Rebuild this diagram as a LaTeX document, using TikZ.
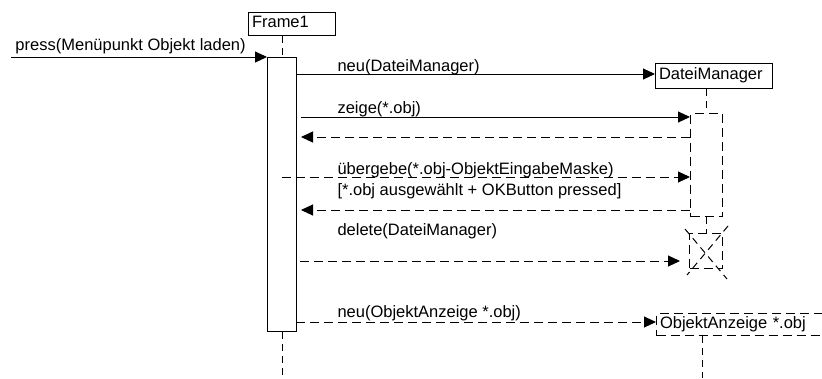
\documentclass[tikz,border=0pt]{standalone}
\usepackage{fontspec}
\setmainfont{Liberation Sans}
\usetikzlibrary{arrows.meta}
\begin{document}
\begin{tikzpicture}[x=1pt,y=-1pt,
  font=\fontsize{16.5}{20}\selectfont,
  line width=1pt,
  box/.style={draw, fill=white, anchor=north west, inner ysep=0pt, inner xsep=3.5pt,
              text height=11pt, text depth=4pt, align=left},
  boxd/.style={box, dash pattern=on 9pt off 5pt},
  act/.style={draw, fill=white, anchor=north west, inner sep=0pt},
  actd/.style={act, dash pattern=on 9pt off 5pt},
  life/.style={dash pattern=on 7pt off 5pt},
  tip/.style={-{Triangle[length=12pt,width=11pt]}},
  msg/.style={tip},
  msgd/.style={tip, dash pattern=on 9pt off 5pt},
  lbl/.style={anchor=base west, inner sep=0pt}]
\clip (0,0) rectangle (822,378);
\coordinate (bot) at (0,378);

% Frame1
\node[box, minimum width=87pt, minimum height=23pt, text width=80pt] (frame1) at (248,12) {Frame1};
\node[act, minimum width=29pt, minimum height=274pt] (act1) at (267,57) {};
\draw[life] (frame1.south -| act1.north) -- (act1.north);
\draw[life] (act1.south) -- (act1.south |- bot);

% DateiManager
\node[box, minimum width=117pt, minimum height=25pt, text width=110pt] (dm) at (655,63) {DateiManager};
\node[actd, minimum width=32pt, minimum height=103pt] (act2) at (690,113) {};
\node[actd, minimum width=33pt, minimum height=35pt] (des) at (689,233) {};
\draw[life] (dm.south -| act2.north) -- (act2.north);
\draw[life] (act2.south) -- (act2.south |- des.north);
\draw[life] ([shift={(-4,-4)}]des.north west) -- ([shift={(4,10)}]des.south east);
\draw[life] ([shift={(5,-7)}]des.north east) -- ([shift={(-2,6)}]des.south west);

% ObjektAnzeige
\node[boxd, minimum width=170pt, minimum height=22pt, text width=163pt] (oa) at (656,313) {ObjektAnzeige *.obj};
\draw[life] ([xshift=46pt]oa.south west) -- ([xshift=46pt]oa.south west |- bot);

% messages
\coordinate (ps) at (11,57);
\draw[msg] (ps) -- (act1.north west);
\node[lbl] (lpress) at (15,50) {press(Menüpunkt Objekt laden)};

\coordinate (m1) at (296,74);
\draw[msg] (m1) -- (m1 -| dm.west);
\node[lbl] (lneu1) at (337,71) {neu(DateiManager)};

\coordinate (m2) at (301,117);
\draw[msg] (m2) -- (m2 -| act2.west);
\node[lbl] (lzeige) at (337,113) {zeige(*.obj)};

\coordinate (r1) at (301,137);
\draw[msgd] (r1 -| act2.west) -- (r1);

\coordinate (m3) at (281.5,177);
\draw[msgd] (m3) -- (m3 -| act2.west);
\node[lbl] (lueb) at (337,174) {übergebe(*.obj-ObjektEingabeMaske)};
\node[lbl] (lcond) at (337,195) {[*.obj ausgewählt + OKButton pressed]};

\coordinate (r2) at (301,210);
\draw[msgd] (r2 -| act2.west) -- (r2);

\coordinate (m4) at (300,261);
\draw[msgd, shorten >=9pt] (m4) -- (m4 -| des.west);
\node[lbl] (ldel) at (337,235) {delete(DateiManager)};

\coordinate (m5) at (296,322);
\draw[msgd] (m5) -- (m5 -| oa.west);
\node[lbl] (lneu2) at (337,317) {neu(ObjektAnzeige *.obj)};
\end{tikzpicture}
\end{document}
